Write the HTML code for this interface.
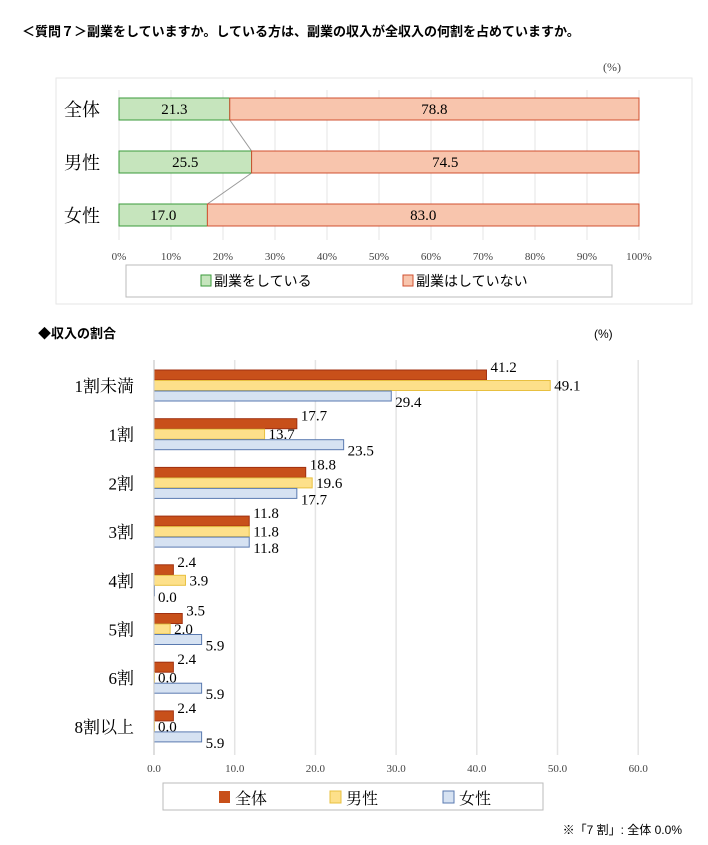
<!DOCTYPE html>
<html><head><meta charset="utf-8">
<style>
body{margin:0;background:#fff;}
svg text{font-family:"Liberation Serif","Noto Serif CJK SC",serif;}
.sans{font-family:"Liberation Sans","Noto Sans CJK JP",sans-serif !important;}
</style></head>
<body>
<svg id="c" width="708" height="840" viewBox="0 0 708 840" xmlns="http://www.w3.org/2000/svg">
<text x="22" y="36" font-size="13" font-weight="bold" class="sans">＜質問７＞副業をしていますか。している方は、副業の収入が全収入の何割を占めていますか。</text>
<text x="603" y="71" font-size="12" fill="#444">(%)</text>
<rect x="56" y="78" width="636" height="226" fill="#fff" stroke="#e6e6e6"/>
<g id="top"></g>
<rect x="126" y="265" width="486" height="32" fill="#fff" stroke="#bbb"/>
<rect x="201" y="275" width="10" height="11" fill="#c6e5bd" stroke="#3a9a3a"/>
<text x="214" y="286" font-size="14" class="sans">副業をしている</text>
<rect x="403" y="275" width="10" height="11" fill="#f8c5ad" stroke="#d05030"/>
<text x="416" y="286" font-size="14" class="sans">副業はしていない</text>

<text x="38" y="338" font-size="13" font-weight="bold" class="sans">◆収入の割合</text>
<text x="594" y="338" font-size="12" class="sans">(%)</text>
<g id="bot"></g>
<rect x="163" y="783" width="380" height="27" fill="#fff" stroke="#bbb"/>
<rect x="219" y="791" width="11" height="12" fill="#c8501a"/>
<text x="235" y="804" font-size="16">全体</text>
<rect x="330" y="791" width="11" height="12" fill="#fde08a" stroke="#e8c040"/>
<text x="346" y="804" font-size="16">男性</text>
<rect x="443" y="791" width="11" height="12" fill="#d6e2f2" stroke="#5a7ab0"/>
<text x="459" y="804" font-size="16">女性</text>
<text x="682" y="834" font-size="12" text-anchor="end" class="sans">※「7 割」: 全体 0.0%</text>
</svg>
<script>
const NS="http://www.w3.org/2000/svg";
const topCats=["全体","男性","女性"];
const topYes=[21.3,25.5,17.0];
const topNo=[78.8,74.5,83.0];
const topTicks=[0,10,20,30,40,50,60,70,80,90,100];
const botCats=["1割未満","1割","2割","3割","4割","5割","6割","8割以上"];
const botAll=[41.2,17.7,18.8,11.8,2.4,3.5,2.4,2.4];
const botMale=[49.1,13.7,19.6,11.8,3.9,2.0,0.0,0.0];
const botFemale=[29.4,23.5,17.7,11.8,0.0,5.9,5.9,5.9];
const botTicks=[0,10,20,30,40,50,60];

function mk(p,t,a){const e=document.createElementNS(NS,t);for(const k in a)e.setAttribute(k,a[k]);p.appendChild(e);return e;}
const T=document.getElementById('top');
const tx=v=>119+v*5.2;
const ty=i=>109+i*53;
topTicks.forEach(t=>{
  const l=mk(T,'line',{x1:tx(t),x2:tx(t),y1:90,y2:240,stroke:'#e4e4e4'});
  
  
  const s=mk(T,'text',{x:tx(t),y:260,'font-size':11,'text-anchor':'middle',fill:'#444'});s.textContent=t+'%';
  
  
});
for(let i=0;i<topCats.length-1;i++){
  const l=mk(T,'line',{x1:tx(topYes[i]),y1:ty(i)+11,x2:tx(topYes[i+1]),y2:ty(i+1)-11,stroke:'#999'});
  
  
}
topCats.forEach((c,i)=>{
  const y=ty(i);
  const lb=mk(T,'text',{x:100,y:y+7,'font-size':18,'text-anchor':'end'});lb.textContent=c;
  
  
  const a=mk(T,'rect',{x:tx(0),y:y-11,width:tx(topYes[i])-tx(0),height:22,fill:'#c6e5bd',stroke:'#3a9a3a'});
  
  
  const b=mk(T,'rect',{x:tx(topYes[i]),y:y-11,width:tx(100)-tx(topYes[i]),height:22,fill:'#f8c5ad',stroke:'#d05030'});
  
  
  const v1=mk(T,'text',{x:(tx(0)+tx(topYes[i]))/2,y:y+5,'font-size':15,'text-anchor':'middle'});v1.textContent=topYes[i].toFixed(1);
  
  
  const v2=mk(T,'text',{x:(tx(topYes[i])+tx(100))/2,y:y+5,'font-size':15,'text-anchor':'middle'});v2.textContent=topNo[i].toFixed(1);
  
  
});
const B=document.getElementById('bot');
const bx=v=>154+v*8.07;
const by=i=>386+i*48.7;
botTicks.forEach(t=>{
  const l=mk(B,'line',{x1:bx(t),x2:bx(t),y1:360,y2:755,stroke:'#e4e4e4','stroke-width':1.5});
  
  
  const s=mk(B,'text',{x:bx(t),y:772,'font-size':11,'text-anchor':'middle',fill:'#444'});s.textContent=t.toFixed(1);
  
  
});
const ser=[[botAll,'#c8501a','#a03010',-8,'bar-all'],[botMale,'#fde08a','#e8c040',0,'bar-male'],[botFemale,'#d6e2f2','#5a7ab0',6,'bar-female']];
botCats.forEach((c,i)=>{
  const y=by(i);
  const lb=mk(B,'text',{x:134,y:y+6,'font-size':17,'text-anchor':'end'});lb.textContent=c;
  
  
  ser.forEach((s,k)=>{
    const v=s[0][i];const top=y-16+k*10.5;
    const r=mk(B,'rect',{x:bx(0),y:top,width:Math.max(bx(v)-bx(0),0.5),height:10,fill:s[1],stroke:s[2]});
    
    
    const t=mk(B,'text',{x:bx(v)+4,y:top+10+s[3],'font-size':15});t.textContent=v.toFixed(1);
    
    
  });
});
const ax=mk(B,'line',{x1:bx(0),x2:bx(0),y1:360,y2:755,stroke:'#ccc'});


</script>
</body></html>
